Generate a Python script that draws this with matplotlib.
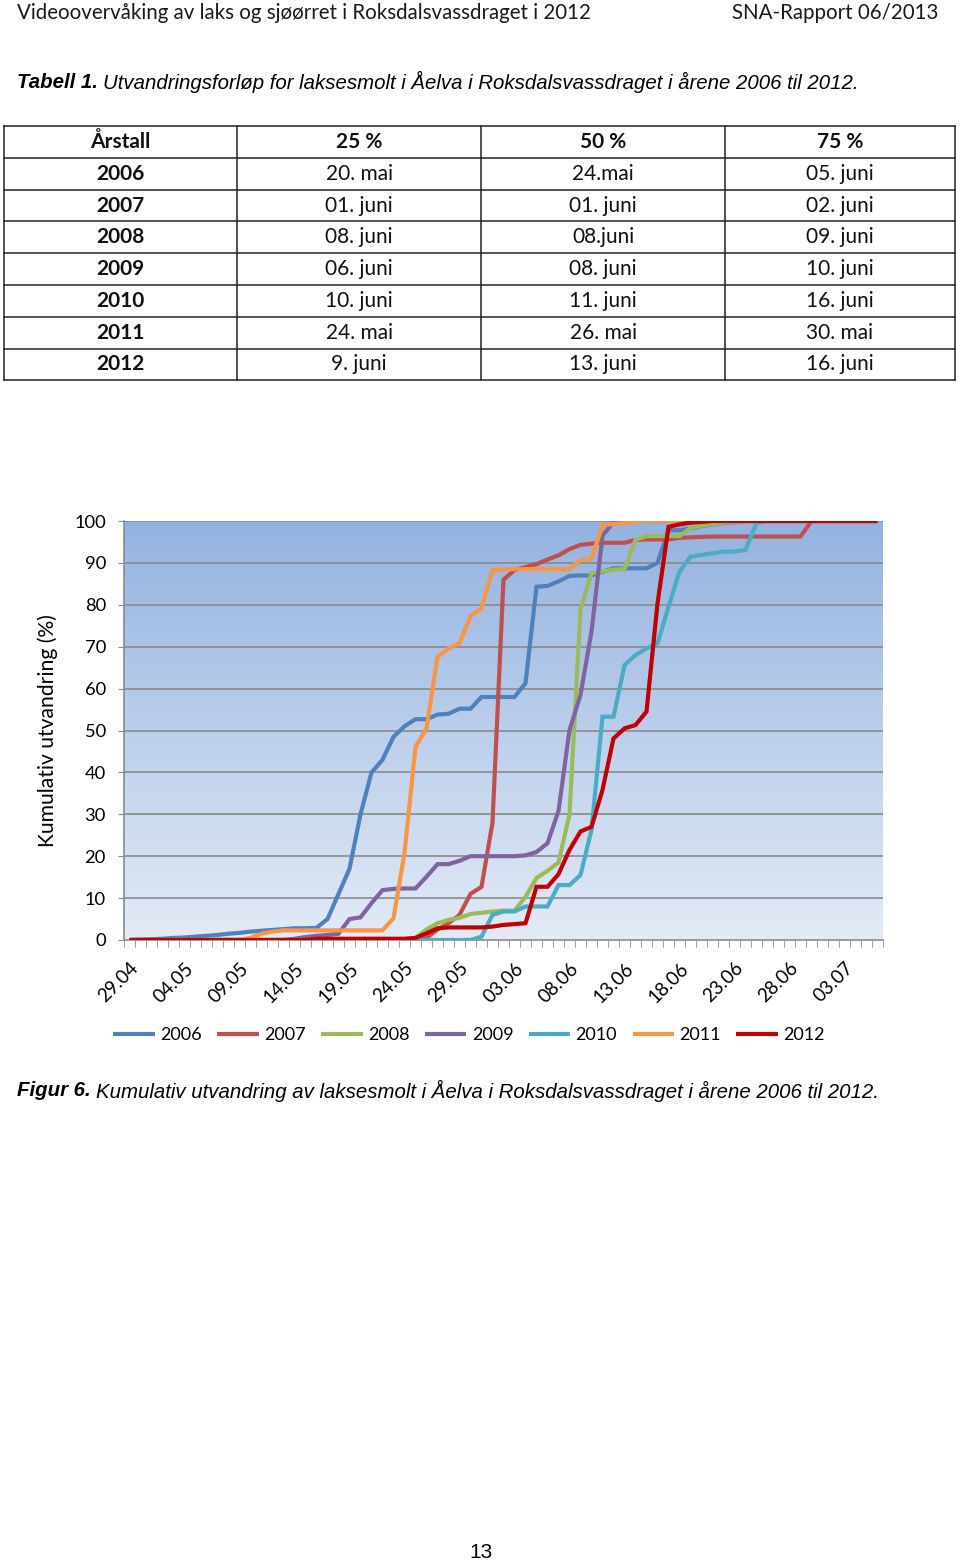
import matplotlib
matplotlib.use("Agg")
import matplotlib.pyplot as plt
import numpy as np

# tabell 1
aar = ["2006", "2007", "2008", "2009", "2010", "2011", "2012"]
p25 = ["20. mai", "01. juni", "08. juni", "06. juni", "10. juni", "24. mai", "9. juni"]
p50 = ["24.mai", "01. juni", "08.juni", "08. juni", "11. juni", "26. mai", "13. juni"]
p75 = ["05. juni", "02. juni", "09. juni", "10. juni", "16. juni", "30. mai", "16. juni"]
kolonner = ["Årstall", "25 %", "50 %", "75 %"]

# figur 6, kumulativ utvandring (%) per dag fra 29.04
dato_etiketter = ["29.04", "04.05", "09.05", "14.05", "19.05", "24.05", "29.05",
                  "03.06", "08.06", "13.06", "18.06", "23.06", "28.06", "03.07"]

u2006 = [0, 0.1, 0.2, 0.3, 0.5, 0.6, 0.8, 1.0, 1.2, 1.5,
         1.7, 2.0, 2.2, 2.4, 2.6, 2.8, 2.8, 2.9, 5.0, 11,
         17, 30, 40, 43, 48.5, 51, 52.7, 52.7, 53.8, 54,
         55.2, 55.2, 58, 58, 58, 58, 61.3, 84.3, 84.5, 85.6,
         86.9, 87, 87, 87.9, 88.7, 88.7, 88.7, 88.7, 90, 97.8,
         97.8, 98.2, 98.8, 99.2, 99.5, 99.7, 100, 100, 100, 100,
         100, 100, 100, 100, 100, 100, 100, 100, 100]
u2007 = [0, 0, 0, 0, 0, 0, 0, 0, 0, 0,
         0, 0, 0, 0, 0, 0, 0, 0, 0, 0,
         0, 0, 0, 0, 0, 0, 0, 0.5, 2.5, 4,
         6, 11, 12.7, 28, 86, 88.3, 89, 89.7, 90.8, 91.8,
         93.3, 94.3, 94.6, 94.8, 94.8, 94.8, 95.5, 95.6, 95.6, 95.6,
         96, 96.1, 96.2, 96.3, 96.3, 96.3, 96.3, 96.3, 96.3, 96.3,
         96.3, 96.3, 100, 100, 100, 100, 100, 100, 100]
u2008 = [0, 0, 0, 0, 0, 0, 0, 0, 0, 0,
         0, 0, 0, 0, 0, 0, 0, 0, 0, 0,
         0, 0, 0, 0, 0, 0, 0.5, 2.5, 4, 4.8,
         5.3, 6.2, 6.5, 6.8, 7, 7, 10.3, 14.8, 16.5, 18.5,
         30, 79, 87.5, 88, 88.4, 88.5, 95.5, 96.4, 96.4, 96.4,
         96.4, 98.3, 98.9, 99.3, 99.6, 99.8, 100, 100, 100, 100,
         100, 100, 100, 100, 100, 100, 100, 100, 100]
u2009 = [0, 0, 0, 0, 0, 0, 0, 0, 0, 0,
         0, 0, 0, 0, 0, 0.3, 0.7, 1.0, 1.2, 1.5,
         5.0, 5.4, 8.8, 11.9, 12.2, 12.3, 12.3, 15.1, 18.1, 18.1,
         18.9, 20, 20, 20, 20, 20, 20.2, 21, 23.1, 30.8,
         50.1, 58.5, 73.6, 96.5, 99.7, 100, 100, 100, 100, 100,
         100, 100, 100, 100, 100, 100, 100, 100, 100, 100,
         100, 100, 100, 100, 100, 100, 100, 100, 100]
u2010 = [0, 0, 0, 0, 0, 0, 0, 0, 0, 0,
         0, 0, 0, 0, 0, 0, 0, 0, 0, 0,
         0, 0, 0, 0, 0, 0, 0, 0, 0, 0,
         0, 0, 0.8, 6, 6.8, 6.8, 8, 8, 8, 13.1,
         13.1, 15.5, 26.3, 53.3, 53.3, 65.6, 68, 69.6, 70.8, 79.5,
         87.9, 91.5, 91.9, 92.3, 92.7, 92.7, 93.1, 99.5, 100, 100,
         100, 100, 100, 100, 100, 100, 100, 100, 100]
u2011 = [0, 0, 0, 0, 0, 0, 0, 0, 0, 0,
         0, 0.5, 1.5, 2.0, 2.3, 2.3, 2.3, 2.3, 2.3, 2.3,
         2.3, 2.3, 2.3, 2.3, 5.2, 20.7, 46.1, 50.5, 67.6, 69.6,
         70.8, 77.3, 79.2, 88.3, 88.5, 88.5, 88.5, 88.5, 88.5, 88.5,
         88.5, 90.7, 91, 99, 99.3, 99.5, 99.8, 100, 100, 100,
         100, 100, 100, 100, 100, 100, 100, 100, 100, 100,
         100, 100, 100, 100, 100, 100, 100, 100, 100]
u2012 = [0, 0, 0, 0, 0, 0, 0, 0, 0, 0,
         0, 0, 0, 0, 0, 0, 0, 0.3, 0.3, 0.3,
         0.3, 0.3, 0.3, 0.3, 0.3, 0.3, 0.5, 1.6, 2.8, 3.0,
         3.0, 3.0, 3.0, 3.2, 3.6, 3.8, 4.0, 12.7, 12.7, 15.7,
         21.5, 25.9, 27, 35.8, 48.1, 50.5, 51.3, 54.5, 80.3, 98.6,
         99.2, 99.6, 99.8, 100, 100, 100, 100, 100, 100, 100,
         100, 100, 100, 100, 100, 100, 100, 100, 100]

serier = [u2006, u2007, u2008, u2009, u2010, u2011, u2012]
farger = ["#4F81BD", "#C0504D", "#9BBB59", "#8064A2", "#4BACC6", "#F79646", "#C00000"]

CAL = ["Lato", "DejaVu Sans"]
ARI = ["Liberation Sans", "DejaVu Sans"]

W, H = 960, 1562
fig = plt.figure(figsize=(W / 100, H / 100), dpi=100)

page = fig.add_axes([0, 0, 1, 1])
page.set_xlim(0, W)
page.set_ylim(H, 0)
page.axis("off")

# topptekst
page.text(17, 13, "Videoovervåking av laks og sjøørret i Roksdalsvassdraget i 2012",
          family=CAL, fontsize=14.8, va="center", ha="left", color="#1a1a1a")
page.text(938, 13, "SNA-Rapport 06/2013", family=CAL, fontsize=14.8,
          va="center", ha="right", color="#1a1a1a")

fig.canvas.draw()
rend = fig.canvas.get_renderer()


def caption(y, fet, resten):
    t = page.text(17, y, fet, family=ARI, fontsize=14.7, weight="bold",
                  style="italic", va="center", ha="left")
    bb = t.get_window_extent(renderer=rend)
    x2 = page.transData.inverted().transform((bb.x1, bb.y0))[0]
    page.text(x2 + 5, y, resten, family=ARI, fontsize=14.7, style="italic",
              va="center", ha="left")


caption(82, "Tabell 1.", "Utvandringsforløp for laksesmolt i Åelva i Roksdalsvassdraget i årene 2006 til 2012.")

# tabell
xs = [4, 237, 481, 725, 955]
ys = [126, 158, 190, 221, 253, 285, 317, 349, 380]
for x in xs:
    page.plot([x, x], [ys[0], ys[-1]], color="#222222", lw=1.1)
for y in ys:
    page.plot([xs[0], xs[-1]], [y, y], color="#222222", lw=1.1)
rader = [kolonner] + [[a, b, c, d] for a, b, c, d in zip(aar, p25, p50, p75)]
for r, rad in enumerate(rader):
    yc = (ys[r] + ys[r + 1]) / 2
    for c, tekst in enumerate(rad):
        xc = (xs[c] + xs[c + 1]) / 2
        fet = "bold" if (r == 0 or c == 0) else "normal"
        page.text(xc, yc, tekst, family=CAL, fontsize=15, weight=fet,
                  ha="center", va="center", color="#111111")

# diagram
L, R, T, B = 124, 883, 521, 940
ax = fig.add_axes([L / W, 1 - B / H, (R - L) / W, (B - T) / H])
dager = np.arange(len(u2006))
ax.set_xlim(-0.5, len(dager) - 0.5)
ax.set_ylim(0, 100)

grad = np.linspace(1, 0, 256).reshape(-1, 1)
topp = np.array([0.58, 0.70, 0.88])
bunn = np.array([0.89, 0.92, 0.965])
bilde = bunn + (topp - bunn) * grad[..., None]
ax.imshow(bilde, extent=[-0.5, len(dager) - 0.5, 0, 100], aspect="auto",
          zorder=0, interpolation="bilinear")

for v in range(10, 101, 10):
    ax.axhline(v, color="#8a8a8a", lw=1.2, zorder=1)

for aarstall, data, farge in zip(aar, serier, farger):
    ax.plot(dager, data, color=farge, lw=3.0, label=aarstall, zorder=3,
            solid_joinstyle="miter", solid_capstyle="butt")

for s in ["top", "right"]:
    ax.spines[s].set_visible(False)
for s in ["left", "bottom"]:
    ax.spines[s].set_color("#8a8a8a")
    ax.spines[s].set_linewidth(1.2)

ax.set_yticks(range(0, 101, 10))
ax.set_yticklabels([str(v) for v in range(0, 101, 10)], family=CAL, fontsize=13.2)
ax.tick_params(axis="y", length=4, color="#8a8a8a", pad=9)

ax.set_xticks(np.arange(0, len(dager), 5))
ax.set_xticklabels(dato_etiketter, family=CAL, fontsize=13.6, rotation=45,
                   ha="right", va="top", rotation_mode="anchor")
ax.tick_params(axis="x", length=0, pad=14)
ax.set_xticks(np.arange(-0.5, len(dager), 1), minor=True)
ax.tick_params(axis="x", which="minor", length=5, color="#8a8a8a")

ax.set_ylabel("Kumulativ utvandring (%)", family=CAL, fontsize=15.2, labelpad=12)

leg = fig.legend(loc="center", bbox_to_anchor=(469 / W, 1 - 1035 / H), ncol=7,
                 frameon=False, prop={"family": CAL, "size": 13},
                 handlelength=2.3, handletextpad=0.3, columnspacing=0.85)

caption(1091, "Figur 6.", "Kumulativ utvandring av laksesmolt i Åelva i Roksdalsvassdraget i årene 2006 til 2012.")

page.text(481, 1552, "13", family=ARI, fontsize=15, ha="center", va="center")

fig.savefig("out.png", dpi=100)
